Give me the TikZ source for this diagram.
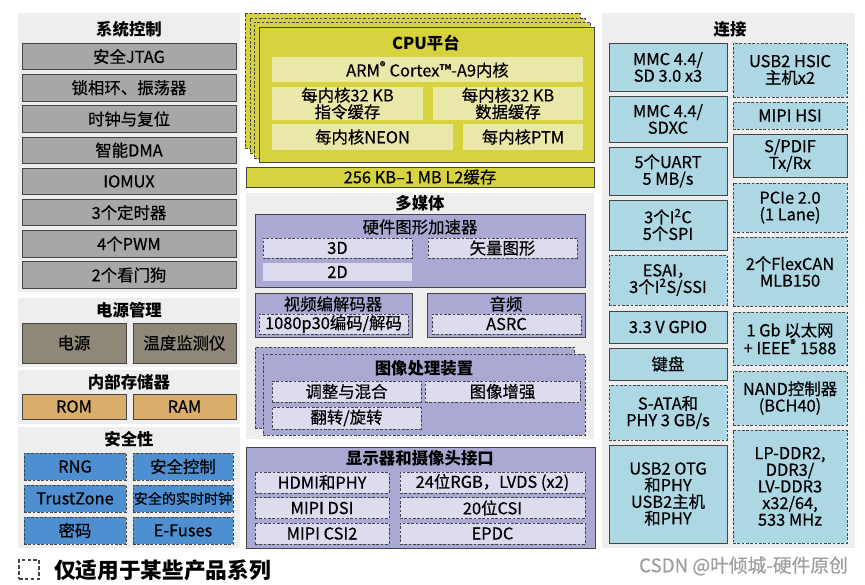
\documentclass[tikz,border=0pt]{standalone}
\usepackage{fontspec}
\setmainfont{Noto Sans CJK SC}[UprightFeatures={FakeBold=0.5}]
\usetikzlibrary{fit}

\definecolor{panelgray}{HTML}{EEEEEE}
\definecolor{sysgray}{HTML}{A7A7A7}
\definecolor{pwrbrown}{HTML}{8F8879}
\definecolor{memtan}{HTML}{D9AE6B}
\definecolor{secblue}{HTML}{4D8FD1}
\definecolor{cpuyellow}{HTML}{D6D33E}
\definecolor{cpulight}{HTML}{EAE8A8}
\definecolor{mmpurple}{HTML}{A9A9D3}
\definecolor{mmlight}{HTML}{DCDCEE}
\definecolor{conblue}{HTML}{AED7E4}
\definecolor{edgegray}{HTML}{454545}

\tikzset{
  wh/.style 2 args={minimum width=#1*0.03cm, minimum height=#2*0.03cm},
  panel/.style={fill=panelgray, inner sep=0pt},
  blk/.style={draw=edgegray, line width=0.7pt, inner sep=0pt, align=center,
    font=\fontsize{14}{14.2}\selectfont},
  opt/.style={blk, dash pattern=on 2.2pt off 1.5pt},
  ttl/.style={font=\fontsize{14}{15}\selectfont\bfseries},
  sysbox/.style={blk, fill=sysgray},
  pwrbox/.style={blk, fill=pwrbrown},
  membox/.style={blk, fill=memtan},
  secbox/.style={opt, fill=secblue},
  cpubox/.style={blk, fill=cpuyellow},
  cpulayer/.style={opt, fill=cpuyellow},
  cpuin/.style={blk, draw=none, fill=cpulight},
  mmbox/.style={blk, fill=mmpurple},
  mmlayer/.style={opt, fill=mmpurple},
  mmopt/.style={opt, fill=mmlight},
  mmin/.style={blk, draw=none, fill=mmlight},
  conbox/.style={blk, fill=conblue},
  conopt/.style={opt, fill=conblue}
}

\begin{document}
\begin{tikzpicture}[x=0.03cm, y=-0.03cm]
\useasboundingbox (0,0) rectangle (865,584);

% system control
\node [panel, fit={(18,13)(240,292)}] (syspanel) {};
\node [ttl] (systitle) at (129,29) {系统控制};
\node [sysbox, wh={214}{26.5}] (jtag) at (129,56.5) {安全JTAG};
\node [sysbox, wh={214}{26.5}] (pll) at (129,87.7) {锁相环、振荡器};
\node [sysbox, wh={214}{26.5}] (clk) at (129,119) {时钟与复位};
\node [sysbox, wh={214}{26.5}] (dma) at (129,150.2) {智能DMA};
\node [sysbox, wh={214}{26.5}] (iomux) at (129,181.4) {IOMUX};
\node [sysbox, wh={214}{26.5}] (timer) at (129,212.6) {3个定时器};
\node [sysbox, wh={214}{26.5}] (pwm) at (129,243.8) {4个PWM};
\node [sysbox, wh={214}{26.5}] (wdog) at (129,275) {2个看门狗};

% power
\node [panel, fit={(18,298)(240,367)}] (pwrpanel) {};
\node [ttl] (pwrtitle) at (129,310) {电源管理};
\node [pwrbox, wh={104}{40}] (supply) at (74,343) {电源};
\node [pwrbox, wh={103}{40}] (temp) at (184.5,343) {温度监测仪};

% internal memory
\node [panel, fit={(18,370)(240,424)}] (mempanel) {};
\node [ttl] (memtitle) at (129,382) {内部存储器};
\node [membox, wh={104}{25}] (rom) at (74,406.5) {ROM};
\node [membox, wh={103}{25}] (ram) at (184.5,406.5) {RAM};

% security
\node [panel, fit={(18,427)(240,548)}] (secpanel) {};
\node [ttl] (sectitle) at (129,439) {安全性};
\node [secbox, wh={102}{27}] (rng) at (75,466.5) {RNG};
\node [secbox, wh={100}{27}] (secctl) at (183,466.5) {安全控制};
\node [secbox, wh={102}{27}] (tz) at (75,498.5) {TrustZone};
\node [secbox, wh={100}{27}, font=\fontsize{12}{13}\selectfont] (srtc) at (183,498.5) {安全的实时时钟};
\node [secbox, wh={102}{27}] (crypto) at (75,530.5) {密码};
\node [secbox, wh={100}{27}] (efuse) at (183,530.5) {E-Fuses};

% cpu platform
\node [cpulayer, fit={(245,13)(580,148)}] (cpul3) {};
\node [cpulayer, fit={(250,18)(585,153)}] (cpul2) {};
\node [cpulayer, fit={(254,22)(590,158)}] (cpul1) {};
\node [cpubox, fit={(259,27)(594,162)}] (cpu) {};
\node [ttl] (cputitle) at (426,43) {CPU平台};
\node [cpuin, wh={311}{25}] (arm) at (427.5,69.5) {ARM\textsuperscript{®} Cortex™-A9内核};
\node [cpuin, wh={151}{33}] (icache) at (347.5,103.5) {每内核32 KB\\指令缓存};
\node [cpuin, wh={150}{33}] (dcache) at (508,103.5) {每内核32 KB\\数据缓存};
\node [cpuin, wh={181}{26}] (neon) at (362.5,137) {每内核NEON};
\node [cpuin, wh={120}{26}] (ptm) at (523,137) {每内核PTM};
\node [cpubox, wh={348}{20}] (l2) at (420,177) {256 KB–1 MB L2缓存};

% multimedia
\node [panel, fit={(246,193)(594,439)}] (mmpanel) {};
\node [ttl] (mmtitle) at (420,203) {多媒体};
\node [mmbox, fit={(255,214)(585,287)}] (gpu) {};
\node [blk, draw=none] (gputitle) at (420,227) {硬件图形加速器};
\node [mmopt, wh={149}{20}] (gpu3d) at (337.5,248) {3D};
\node [mmopt, wh={149}{20}] (vg) at (502.5,248) {矢量图形};
\node [mmin, wh={149}{18}] (gpu2d) at (337.5,272) {2D};
\node [mmbox, fit={(255,293)(412,337)}] (vpu) {};
\node [blk, draw=none] (vputitle) at (333,304) {视频编解码器};
\node [mmopt, wh={149}{20}] (codec) at (333.5,324) {1080p30编码/解码};
\node [mmbox, fit={(427,293)(585,337)}] (audio) {};
\node [blk, draw=none] (audiotitle) at (506,304) {音频};
\node [mmopt, wh={149}{20}] (asrc) at (506.5,324) {ASRC};
\node [mmlayer, fit={(255,347)(574,428)}] (ipuback) {};
\node [mmlayer, fit={(263,354)(585,435)}] (ipu) {};
\node [ttl] (iputitle) at (424,368) {图像处理装置};
\node [mmopt, wh={149}{21}] (blend) at (346.5,391.5) {调整与混合};
\node [mmopt, wh={155}{21}] (enhance) at (502.5,391.5) {图像增强};
\node [mmopt, wh={149}{22}] (rotate) at (346.5,418) {翻转/旋转};

% display and camera
\node [mmbox, fit={(246,447)(595,548)}] (disp) {};
\node [ttl] (disptitle) at (420,458) {显示器和摄像头接口};
\node [mmopt, wh={134}{21}] (hdmi) at (322,482.5) {HDMI和PHY};
\node [mmopt, wh={185}{21}] (lvds) at (492.5,482.5) {24位RGB，LVDS (x2)};
\node [mmopt, wh={134}{21}] (dsi) at (322,508) {MIPI DSI};
\node [mmopt, wh={185}{21}] (csi) at (492.5,508) {20位CSI};
\node [mmopt, wh={134}{21}] (csi2) at (322,533.5) {MIPI CSI2};
\node [mmopt, wh={185}{21}] (epdc) at (492.5,533.5) {EPDC};

% connectivity
\node [panel, fit={(602,13)(855,548)}] (conpanel) {};
\node [ttl] (contitle) at (730,29) {连接};
\node [conbox, wh={118}{48}] (mmc1) at (668,67) {MMC 4.4/\\SD 3.0 x3};
\node [conbox, wh={118}{46}] (mmc2) at (668,119) {MMC 4.4/\\SDXC};
\node [conbox, wh={118}{48}] (uart) at (668,171) {5个UART\\5 MB/s};
\node [conbox, wh={118}{50}] (i2c) at (668,225) {3个I\textsuperscript{2}C\\5个SPI};
\node [conopt, wh={118}{50}] (esai) at (668,280) {ESAI，\\3个I\textsuperscript{2}S/SSI};
\node [conbox, wh={118}{32}] (gpio) at (668,327) {3.3 V GPIO};
\node [conbox, wh={118}{32}] (kpp) at (668,364) {键盘};
\node [conopt, wh={118}{55}] (sata) at (668,412.5) {S-ATA和\\PHY 3 GB/s};
\node [conbox, wh={118}{98}] (otg) at (668,494) {USB2 OTG\\和PHY\\USB2主机\\和PHY};
\node [conopt, wh={114}{54}] (hsic) at (790,70) {USB2 HSIC\\主机x2};
\node [conopt, wh={114}{27}] (hsi) at (790,115.5) {MIPI HSI};
\node [conbox, wh={114}{43}] (spdif) at (790,155.5) {S/PDIF\\Tx/Rx};
\node [conopt, wh={114}{49}] (pcie) at (790,207.5) {PCIe 2.0\\(1 Lane)};
\node [conopt, wh={114}{69}] (can) at (790,271.5) {2个FlexCAN\\MLB150};
\node [conopt, wh={114}{53}] (enet) at (790,338.5) {1 Gb 以太网\\+ IEEE\textsuperscript{®} 1588};
\node [conopt, wh={114}{54}] (nand) at (790,398) {NAND控制器\\(BCH40)};
\node [conopt, wh={114}{113}] (ddr) at (790,486.5) {LP-DDR2,\\DDR3/\\LV-DDR3\\x32/64,\\533 MHz};

% legend
\node [opt, line width=1.4pt, dash pattern=on 3pt off 2pt, fit={(19,560)(39,579)}] (legicon) {};
\node [anchor=west, font=\fontsize{18.5}{20}\selectfont\bfseries] (legtext) at (50,570) {仅适用于某些产品系列};
\node [anchor=east, text=black!38, font=\fontsize{16}{17}\selectfont] (mark) at (852,566) {CSDN @叶倾城-硬件原创};
\end{tikzpicture}
\end{document}
